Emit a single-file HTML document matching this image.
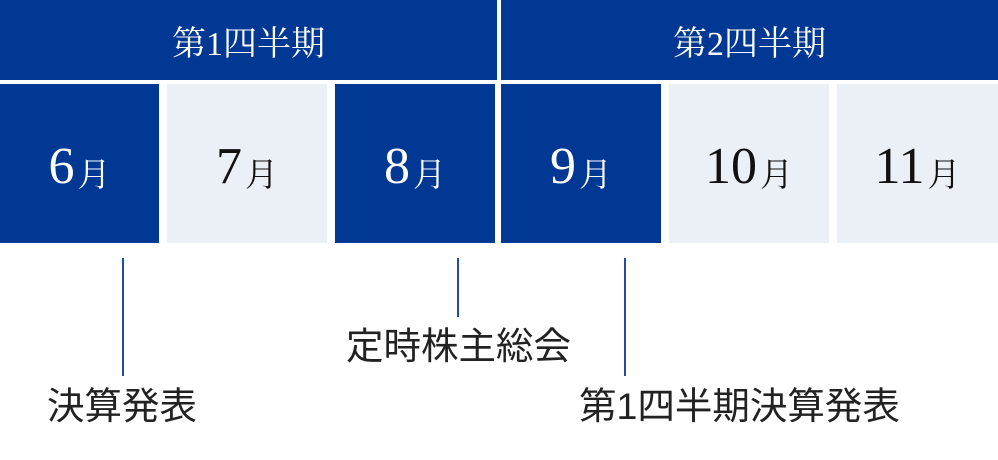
<!DOCTYPE html>
<html><head><meta charset="utf-8"><style>
body{margin:0;width:998px;height:460px;background:#fff;position:relative;overflow:hidden;font-family:"Liberation Serif","Noto Serif CJK SC",serif}
.b{position:absolute;display:flex;align-items:center;justify-content:center}
.h{top:0;height:80px;background:#003893;color:#fff;font-size:34px}
.m{top:84px;height:159px;font-size:52px;box-sizing:border-box;padding-top:6px}
.d{background:#003893;color:#fff}
.l{background:#ebeff6;color:#111}
.m span{font-size:33px;margin-left:3px;margin-top:12px}
.v{position:absolute;width:2px;background:#1f4ea0;top:258px}
.t{position:absolute;font-family:"Liberation Sans","Noto Sans CJK JP",sans-serif;font-size:37.5px;color:#222;line-height:1;white-space:nowrap}
</style></head><body>
<div class="b h" style="left:0;width:497px">第1四半期</div>
<div class="b h" style="left:501px;width:497px">第2四半期</div>
<div class="b m d" style="left:0;width:159px">6<span>月</span></div>
<div class="b m l" style="left:167px;width:160px">7<span>月</span></div>
<div class="b m d" style="left:335px;width:160px">8<span>月</span></div>
<div class="b m d" style="left:501px;width:160px">9<span>月</span></div>
<div class="b m l" style="left:669px;width:160px">10<span>月</span></div>
<div class="b m l" style="left:837px;width:161px">11<span>月</span></div>
<div class="v" style="left:122px;height:118px"></div>
<div class="v" style="left:457px;height:59px"></div>
<div class="v" style="left:624px;height:118px"></div>
<div class="t" style="left:346px;top:328px">定時株主総会</div>
<div class="t" style="left:47px;top:388px">決算発表</div>
<div class="t" style="left:579px;top:388px">第1四半期決算発表</div>
</body></html>
